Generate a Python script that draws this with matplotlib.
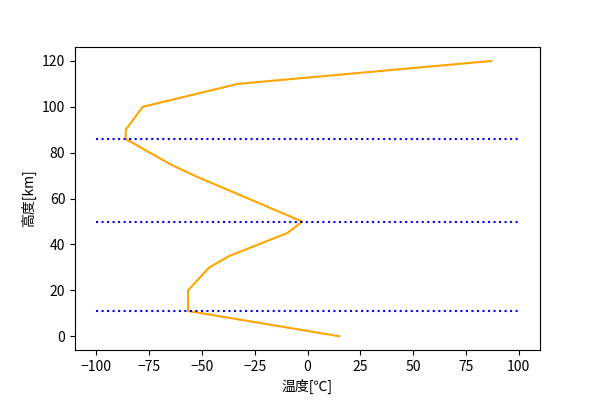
import matplotlib
matplotlib.use("Agg")
import matplotlib.pyplot as plt

plt.rcParams['font.family'] = ['Noto Sans CJK JP', 'DejaVu Sans']

altitude = [0, 11, 20, 30, 35, 45, 50, 70, 75, 86, 90, 100, 110, 120]
temperature = [15, -56.5, -56.5, -46.5, -37, -9.5, -2.5, -53.5, -65, -86, -86, -78, -33, 87]
boundaries = [11, 50, 86]

fig, ax = plt.subplots(figsize=(6, 4), dpi=100)
fig.subplots_adjust(left=0.125, right=0.9, top=0.882, bottom=0.125)
ax.plot(temperature, altitude, color='orange')
for b in boundaries:
    ax.hlines(b, -100, 100, colors='blue', linestyles=':')
ax.set_xlabel('温度[℃]')
ax.set_ylabel('高度[km]')
fig.savefig('out.png')
